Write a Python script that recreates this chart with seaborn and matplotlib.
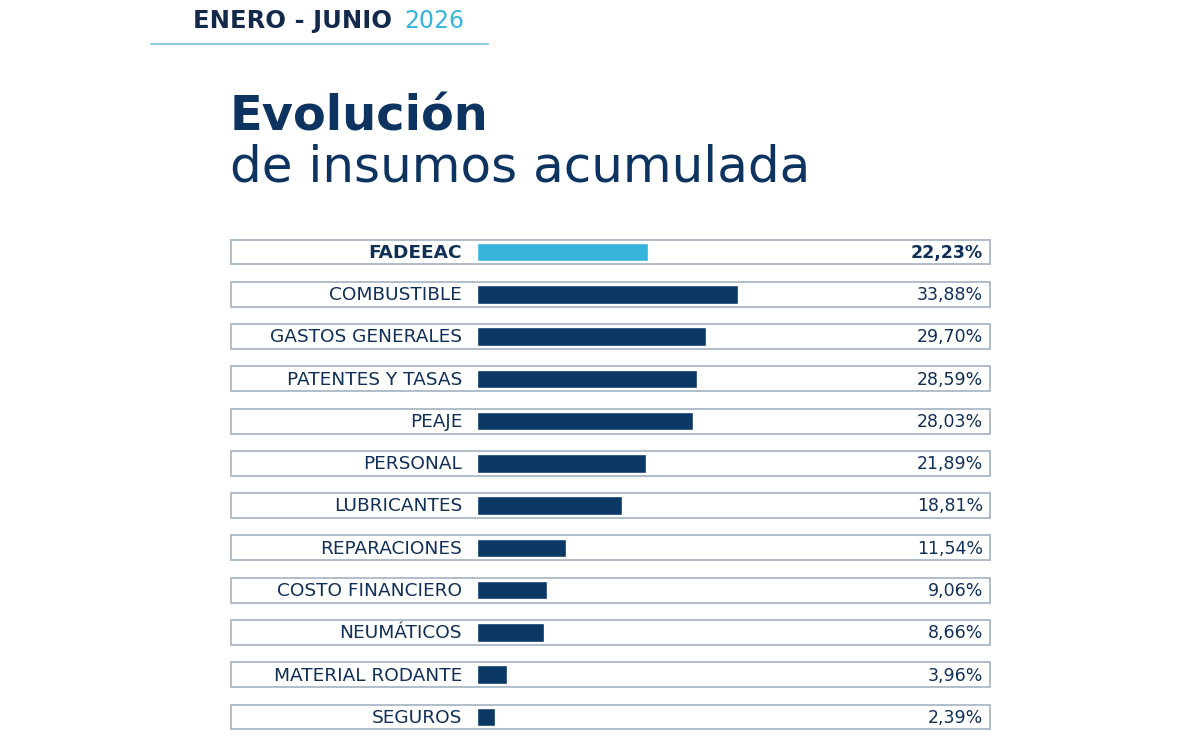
import matplotlib
matplotlib.use("Agg")
import matplotlib.pyplot as plt
import matplotlib.transforms as mtransforms
from matplotlib.patches import Rectangle
import seaborn as sns
import pandas as pd

# datos
categorias = ["FADEEAC", "COMBUSTIBLE", "GASTOS GENERALES", "PATENTES Y TASAS",
              "PEAJE", "PERSONAL", "LUBRICANTES", "REPARACIONES",
              "COSTO FINANCIERO", "NEUMÁTICOS", "MATERIAL RODANTE", "SEGUROS"]
valores = [22.23, 33.88, 29.70, 28.59, 28.03, 21.89, 18.81, 11.54, 9.06, 8.66, 3.96, 2.39]
grupo = ["total"] + ["insumo"] * 11

navy = "#0c3866"
celeste = "#36b4dc"
texto = "#0f2f57"
borde = "#aab7c4"

df = pd.DataFrame({"cat": categorias, "val": valores, "grupo": grupo})

sns.set_theme(style="white")
plt.rcParams["font.family"] = ["DejaVu Sans"]

fig = plt.figure(figsize=(12, 7.4), dpi=100)
ax = fig.add_axes([231 / 1200, 0, 759 / 1200, 510 / 740])

sns.barplot(data=df, y="cat", x="val", hue="grupo", orient="h",
            palette={"total": celeste, "insumo": navy}, width=0.44,
            legend=False, ax=ax, saturation=1)

px = 7.70  # pixeles por punto porcentual
ax.set_xlim(-(477 - 231) / px, (990 - 477) / px)
ax.set_ylim((740 - 252) / 42.27, (230 - 252) / 42.27)
ax.axis("off")

trans = mtransforms.blended_transform_factory(ax.transAxes, ax.transData)
for i, (c, v) in enumerate(zip(categorias, valores)):
    ax.add_patch(Rectangle((0, i - 0.295), 1, 0.59, transform=trans, fill=False,
                           edgecolor=borde, linewidth=1.3, clip_on=False))
    peso = "bold" if i == 0 else "normal"
    ax.text(-15 / px, i + 0.02, c, ha="right", va="center", fontsize=13.3,
            color=texto, fontweight=peso)
    ax.text(0.991, i + 0.02, f"{v:.2f}%".replace(".", ","), transform=trans,
            ha="right", va="center", fontsize=12.5, color=texto, fontweight=peso)

# encabezado
fig.text(193 / 1200, 1 - 21 / 740, "ENERO - JUNIO ", fontsize=17.5, fontweight="bold",
         color="#13294b", va="center", ha="left")
fig.text(404 / 1200, 1 - 21 / 740, "2026", fontsize=17, color=celeste,
         va="center", ha="left")
fig.add_artist(plt.Line2D([151 / 1200, 488 / 1200], [1 - 44 / 740, 1 - 44 / 740],
                          color="#8fcadb", linewidth=1.5))

# título
fig.text(230 / 1200, 1 - 117 / 740, "Evolución", fontsize=34.5, fontweight="bold",
         color="#0d3461", va="center", ha="left")
fig.text(230 / 1200, 1 - 167 / 740, "de insumos acumulada", fontsize=36,
         color="#0d3461", va="center", ha="left")

fig.savefig("out.png", dpi=100, facecolor="white")
